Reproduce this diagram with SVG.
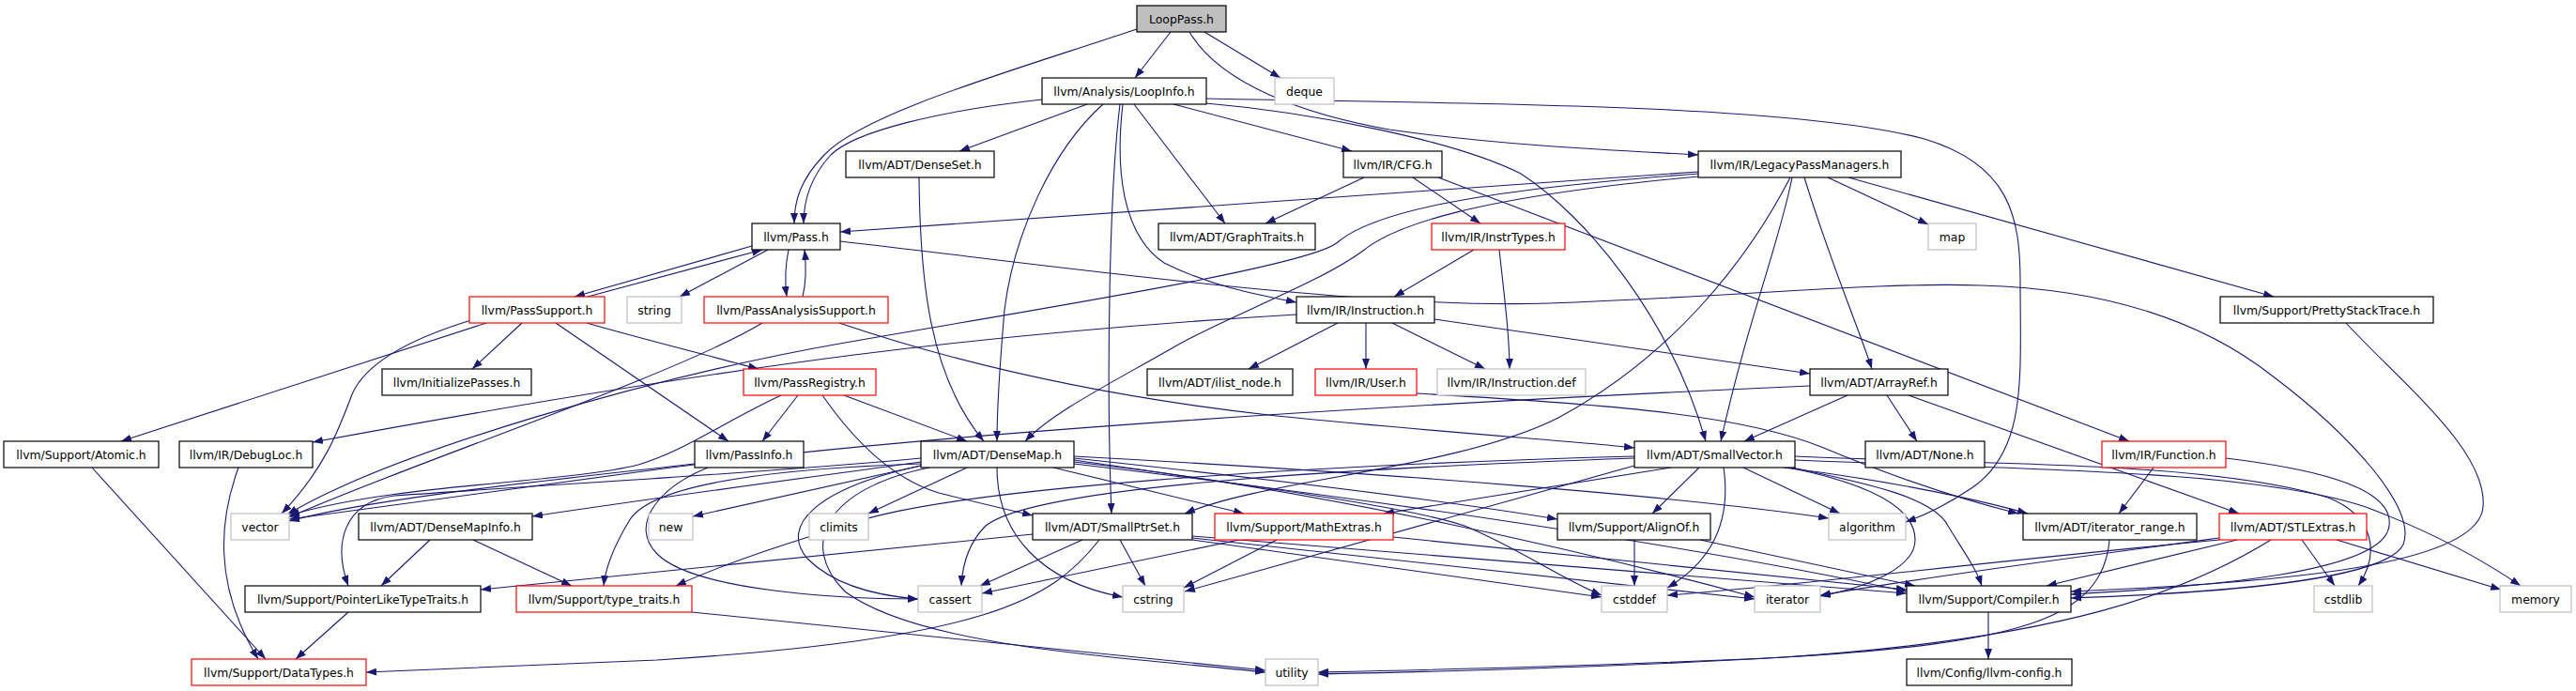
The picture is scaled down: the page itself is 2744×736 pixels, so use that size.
<svg xmlns="http://www.w3.org/2000/svg" width="2744" height="736" viewBox="0 0 2744 736">
<style>
.node rect{fill:#ffffff;stroke:#000000;stroke-width:1.2}
.node.r rect{stroke:#ff0000}
.node.g rect{stroke:#bfbfbf}
.node.top rect{fill:#bfbfbf;stroke:#000000}
.node text{font-family:"DejaVu Sans","Liberation Sans",sans-serif;font-size:12.4px;text-anchor:middle;fill:#000000}
#edges path{fill:none;stroke:#191970;stroke-width:1.1;marker-end:url(#a)}
</style>
<defs>
<marker id="a" viewBox="0 0 11 8" refX="11" refY="4" markerWidth="11" markerHeight="8" markerUnits="userSpaceOnUse" orient="auto"><path d="M0,0L11,4L0,8z" fill="#191970"/></marker>
</defs>
<rect x="0" y="0" width="2744" height="736" fill="#ffffff"/>
<g id="edges">
<path d="M1211,31 C1080,75 920,120 878,165 C852,192 846,215 846,238"/>
<path d="M1247,34 L1209,83"/>
<path d="M1283,34 L1364,83"/>
<path d="M1267,34 C1300,90 1390,122 1480,138 C1600,155 1720,160 1809,165"/>
<path d="M1110,106 C1000,118 910,140 885,165 C862,190 856,215 856,238"/>
<path d="M1158,111 L1022,161"/>
<path d="M1175,111 C1120,160 1080,250 1070,330 C1064,400 1062,440 1062,470"/>
<path d="M1193,111 C1182,200 1178,400 1184,547"/>
<path d="M1196,111 C1188,180 1195,250 1240,280 C1290,305 1340,314 1381,322"/>
<path d="M1208,111 L1305,238"/>
<path d="M1250,111 L1440,161"/>
<path d="M1285,110 C1400,120 1550,150 1620,185 C1690,230 1780,340 1817,470"/>
<path d="M1285,105 C1500,110 1900,108 2050,148 C2140,175 2152,230 2152,300 C2152,400 2160,480 2100,520 C2070,540 2050,549 2030,556"/>
<path d="M979,189 C980,300 990,400 1048,470"/>
<path d="M1453,189 L1348,238"/>
<path d="M1505,189 L1577,238"/>
<path d="M1532,189 L2268,470"/>
<path d="M1809,183 L895,247"/>
<path d="M1809,185 C1560,203 1460,228 1425,258 C1395,284 1100,330 900,365 C700,400 420,480 306,548"/>
<path d="M1809,188 C1570,210 1485,240 1452,267 C1405,302 1300,340 1250,370 C1180,410 1120,440 1092,470"/>
<path d="M1907,189 C1860,280 1780,380 1660,445 C1550,500 1350,510 1262,547"/>
<path d="M1909,189 C1895,260 1862,340 1833,470"/>
<path d="M1922,189 C1950,280 1980,350 1994,393"/>
<path d="M1947,189 L2054,239"/>
<path d="M1969,189 L2422,316"/>
<path d="M801,262 L612,316"/>
<path d="M626,316 L812,266"/>
<path d="M818,266 L724,316"/>
<path d="M840,266 C836,285 836,300 838,316"/>
<path d="M855,316 C859,300 859,285 857,266"/>
<path d="M895,257 C1100,280 1450,330 1650,323 C1850,316 2000,300 2110,304 C2250,308 2350,345 2420,400 C2500,460 2575,540 2560,580 C2540,620 2350,632 2206,637"/>
<path d="M518,344 L129,470"/>
<path d="M502,341 C440,360 390,385 375,420 C360,460 345,500 300,547"/>
<path d="M556,344 L503,393"/>
<path d="M592,344 L776,470"/>
<path d="M625,344 C680,360 760,380 808,393"/>
<path d="M812,344 C720,400 420,500 308,551"/>
<path d="M894,344 C1000,380 1150,420 1360,443 C1550,462 1680,470 1741,477"/>
<path d="M1381,335 C1050,355 800,385 333,471"/>
<path d="M1425,344 L1330,393"/>
<path d="M1455,344 L1455,393"/>
<path d="M1483,344 L1582,393"/>
<path d="M1528,340 L1928,398"/>
<path d="M1570,266 L1485,316"/>
<path d="M1597,266 C1603,320 1608,360 1608,393"/>
<path d="M832,421 C770,450 730,480 680,495 C600,515 420,515 308,549"/>
<path d="M850,421 L812,470"/>
<path d="M876,421 C910,470 950,510 1000,525 C1040,535 1070,542 1100,549"/>
<path d="M899,421 L1030,470"/>
<path d="M740,494 C600,510 400,530 308,555"/>
<path d="M754,498 C700,520 670,560 700,590 C740,630 900,638 978,638"/>
<path d="M2010,421 L2042,470"/>
<path d="M1968,421 L1858,470"/>
<path d="M2033,421 L2385,547"/>
<path d="M1928,411 C1500,430 1000,460 700,500 C550,520 400,540 308,553"/>
<path d="M981,492 C850,510 700,530 567,550"/>
<path d="M981,488 C800,505 600,515 420,528 C365,535 355,580 371,624"/>
<path d="M981,494 C800,500 690,520 670,555 C655,580 645,605 643,624"/>
<path d="M981,496 L738,550"/>
<path d="M1030,498 L925,547"/>
<path d="M981,496 C870,520 830,560 860,595 C890,625 940,635 978,638"/>
<path d="M990,498 C880,520 850,580 900,630 C980,690 1200,700 1348,716"/>
<path d="M1062,498 C1062,570 1110,620 1196,636"/>
<path d="M1122,498 L1325,547"/>
<path d="M1144,488 C1350,510 1550,535 1659,553"/>
<path d="M1144,486 C1500,505 1800,530 1948,552"/>
<path d="M1144,490 C1350,520 1500,540 1560,560 C1620,585 1660,615 1706,634"/>
<path d="M1144,492 C1400,520 1700,590 1869,636"/>
<path d="M1144,494 C1450,530 1800,580 2031,630"/>
<path d="M458,575 L406,624"/>
<path d="M504,575 L609,624"/>
<path d="M371,652 L315,702"/>
<path d="M98,498 L283,702"/>
<path d="M254,498 C235,550 225,620 275,702"/>
<path d="M737,652 L1348,714"/>
<path d="M1153,575 L1044,624"/>
<path d="M1193,575 L1220,624"/>
<path d="M1171,575 C1120,640 1050,680 700,703 C550,710 450,714 390,716"/>
<path d="M1100,569 L512,628"/>
<path d="M1270,575 L1706,636"/>
<path d="M1270,573 L1869,638"/>
<path d="M1270,571 L2031,632"/>
<path d="M1320,575 L1046,632"/>
<path d="M1360,575 L1261,626"/>
<path d="M1484,572 C1700,595 1900,615 2031,628"/>
<path d="M1810,498 L1760,547"/>
<path d="M1857,498 L1960,547"/>
<path d="M1836,498 C1845,560 1820,600 1776,626"/>
<path d="M1905,498 C1990,515 2040,540 2040,575 C2040,605 1990,625 1939,635"/>
<path d="M1909,498 C1990,515 2060,530 2075,560 C2090,585 2105,605 2111,624"/>
<path d="M1900,498 C2000,510 2100,530 2160,547"/>
<path d="M1912,486 C2100,495 2350,490 2480,530 C2530,550 2535,590 2512,624"/>
<path d="M1912,490 C2150,500 2400,500 2520,540 C2600,570 2650,600 2685,624"/>
<path d="M1780,498 L1474,547"/>
<path d="M1741,488 C1400,500 1100,520 1050,560 C1030,580 1025,605 1024,624"/>
<path d="M1741,496 L1262,630"/>
<path d="M1741,486 C1400,495 1000,520 900,560 C800,590 750,610 720,624"/>
<path d="M1741,575 L1741,624"/>
<path d="M1811,575 L2040,624"/>
<path d="M2247,575 C2240,660 2150,685 1900,700 C1700,710 1500,714 1404,716"/>
<path d="M2452,575 L2487,624"/>
<path d="M2489,575 L2664,628"/>
<path d="M2383,575 L2180,624"/>
<path d="M2364,573 C2200,595 2050,615 1939,634"/>
<path d="M2364,575 C2100,600 1900,625 1776,634"/>
<path d="M2419,575 C2330,630 2200,680 1900,700 C1700,712 1500,716 1404,718"/>
<path d="M2118,652 L2118,702"/>
<path d="M2294,498 L2257,547"/>
<path d="M2371,488 C2470,500 2550,520 2545,560 C2540,610 2350,625 2206,633"/>
<path d="M2499,344 C2560,410 2650,480 2645,540 C2640,600 2450,620 2206,630"/>
<path d="M1509,419 C1700,430 1850,440 1940,476 C2010,505 2080,530 2150,547"/>
</g>
<g id="n_LoopPass" class="node top"><rect x="1211" y="6" width="95" height="28"/><text x="1258.5" y="24.5">LoopPass.h</text></g>
<g id="n_LoopInfo" class="node"><rect x="1110" y="83" width="175" height="28"/><text x="1197.5" y="101.5">llvm/Analysis/LoopInfo.h</text></g>
<g id="n_deque" class="node g"><rect x="1358" y="83" width="63" height="28"/><text x="1389.5" y="101.5">deque</text></g>
<g id="n_DenseSet" class="node"><rect x="901" y="161" width="158" height="28"/><text x="980" y="179.5">llvm/ADT/DenseSet.h</text></g>
<g id="n_CFG" class="node"><rect x="1431" y="161" width="105" height="28"/><text x="1483.5" y="179.5">llvm/IR/CFG.h</text></g>
<g id="n_LPM" class="node"><rect x="1809" y="161" width="216" height="28"/><text x="1917" y="179.5">llvm/IR/LegacyPassManagers.h</text></g>
<g id="n_Pass" class="node"><rect x="801" y="238" width="94" height="28"/><text x="848" y="256.5">llvm/Pass.h</text></g>
<g id="n_GraphTraits" class="node"><rect x="1234" y="238" width="167" height="28"/><text x="1317.5" y="256.5">llvm/ADT/GraphTraits.h</text></g>
<g id="n_InstrTypes" class="node r"><rect x="1525" y="238" width="142" height="28"/><text x="1596" y="256.5">llvm/IR/InstrTypes.h</text></g>
<g id="n_map" class="node g"><rect x="2054" y="238" width="51" height="28"/><text x="2079.5" y="256.5">map</text></g>
<g id="n_PassSupport" class="node r"><rect x="500" y="316" width="144" height="28"/><text x="572" y="334.5">llvm/PassSupport.h</text></g>
<g id="n_string" class="node g"><rect x="668" y="316" width="58" height="28"/><text x="697" y="334.5">string</text></g>
<g id="n_PassAnalysisSupport" class="node r"><rect x="750" y="316" width="196" height="28"/><text x="848" y="334.5">llvm/PassAnalysisSupport.h</text></g>
<g id="n_Instruction" class="node"><rect x="1381" y="316" width="147" height="28"/><text x="1454.5" y="334.5">llvm/IR/Instruction.h</text></g>
<g id="n_PrettyStackTrace" class="node"><rect x="2365" y="316" width="227" height="28"/><text x="2478.5" y="334.5">llvm/Support/PrettyStackTrace.h</text></g>
<g id="n_InitializePasses" class="node"><rect x="407" y="393" width="159" height="28"/><text x="486.5" y="411.5">llvm/InitializePasses.h</text></g>
<g id="n_PassRegistry" class="node r"><rect x="792" y="393" width="141" height="28"/><text x="862.5" y="411.5">llvm/PassRegistry.h</text></g>
<g id="n_ilist_node" class="node"><rect x="1222" y="393" width="155" height="28"/><text x="1299.5" y="411.5">llvm/ADT/ilist_node.h</text></g>
<g id="n_User" class="node r"><rect x="1401" y="393" width="108" height="28"/><text x="1455" y="411.5">llvm/IR/User.h</text></g>
<g id="n_InstructionDef" class="node g"><rect x="1531" y="393" width="158" height="28"/><text x="1610" y="411.5">llvm/IR/Instruction.def</text></g>
<g id="n_ArrayRef" class="node"><rect x="1928" y="393" width="147" height="28"/><text x="2001.5" y="411.5">llvm/ADT/ArrayRef.h</text></g>
<g id="n_Atomic" class="node"><rect x="4" y="470" width="165" height="28"/><text x="86.5" y="488.5">llvm/Support/Atomic.h</text></g>
<g id="n_DebugLoc" class="node"><rect x="191" y="470" width="142" height="28"/><text x="262" y="488.5">llvm/IR/DebugLoc.h</text></g>
<g id="n_PassInfo" class="node"><rect x="740" y="470" width="116" height="28"/><text x="798" y="488.5">llvm/PassInfo.h</text></g>
<g id="n_DenseMap" class="node"><rect x="981" y="470" width="163" height="28"/><text x="1062.5" y="488.5">llvm/ADT/DenseMap.h</text></g>
<g id="n_SmallVector" class="node"><rect x="1741" y="470" width="171" height="28"/><text x="1826.5" y="488.5">llvm/ADT/SmallVector.h</text></g>
<g id="n_None" class="node"><rect x="1987" y="470" width="127" height="28"/><text x="2050.5" y="488.5">llvm/ADT/None.h</text></g>
<g id="n_Function" class="node r"><rect x="2239" y="470" width="132" height="28"/><text x="2305" y="488.5">llvm/IR/Function.h</text></g>
<g id="n_vector" class="node g"><rect x="246" y="547" width="62" height="28"/><text x="277" y="565.5">vector</text></g>
<g id="n_DenseMapInfo" class="node"><rect x="382" y="547" width="185" height="28"/><text x="474.5" y="565.5">llvm/ADT/DenseMapInfo.h</text></g>
<g id="n_new" class="node g"><rect x="691" y="547" width="47" height="28"/><text x="714.5" y="565.5">new</text></g>
<g id="n_climits" class="node g"><rect x="862" y="547" width="63" height="28"/><text x="893.5" y="565.5">climits</text></g>
<g id="n_SmallPtrSet" class="node"><rect x="1100" y="547" width="170" height="28"/><text x="1185" y="565.5">llvm/ADT/SmallPtrSet.h</text></g>
<g id="n_MathExtras" class="node r"><rect x="1294" y="547" width="190" height="28"/><text x="1389" y="565.5">llvm/Support/MathExtras.h</text></g>
<g id="n_AlignOf" class="node"><rect x="1659" y="547" width="163" height="28"/><text x="1740.5" y="565.5">llvm/Support/AlignOf.h</text></g>
<g id="n_algorithm" class="node g"><rect x="1948" y="547" width="82" height="28"/><text x="1989" y="565.5">algorithm</text></g>
<g id="n_iterator_range" class="node"><rect x="2155" y="547" width="185" height="28"/><text x="2247.5" y="565.5">llvm/ADT/iterator_range.h</text></g>
<g id="n_STLExtras" class="node r"><rect x="2364" y="547" width="157" height="28"/><text x="2442.5" y="565.5">llvm/ADT/STLExtras.h</text></g>
<g id="n_PointerLikeTypeTraits" class="node"><rect x="261" y="624" width="251" height="28"/><text x="386.5" y="642.5">llvm/Support/PointerLikeTypeTraits.h</text></g>
<g id="n_type_traits" class="node r"><rect x="550" y="624" width="187" height="28"/><text x="643.5" y="642.5">llvm/Support/type_traits.h</text></g>
<g id="n_cassert" class="node g"><rect x="978" y="624" width="68" height="28"/><text x="1012" y="642.5">cassert</text></g>
<g id="n_cstring" class="node g"><rect x="1196" y="624" width="65" height="28"/><text x="1228.5" y="642.5">cstring</text></g>
<g id="n_cstddef" class="node g"><rect x="1706" y="624" width="70" height="28"/><text x="1741" y="642.5">cstddef</text></g>
<g id="n_iterator" class="node g"><rect x="1869" y="624" width="70" height="28"/><text x="1904" y="642.5">iterator</text></g>
<g id="n_Compiler" class="node"><rect x="2031" y="624" width="175" height="28"/><text x="2118.5" y="642.5">llvm/Support/Compiler.h</text></g>
<g id="n_cstdlib" class="node g"><rect x="2465" y="624" width="62" height="28"/><text x="2496" y="642.5">cstdlib</text></g>
<g id="n_memory" class="node g"><rect x="2663" y="624" width="76" height="28"/><text x="2701" y="642.5">memory</text></g>
<g id="n_DataTypes" class="node r"><rect x="204" y="702" width="186" height="28"/><text x="297" y="720.5">llvm/Support/DataTypes.h</text></g>
<g id="n_utility" class="node g"><rect x="1348" y="702" width="56" height="28"/><text x="1376" y="720.5">utility</text></g>
<g id="n_llvm_config" class="node"><rect x="2031" y="702" width="176" height="28"/><text x="2119" y="720.5">llvm/Config/llvm-config.h</text></g>
</svg>
